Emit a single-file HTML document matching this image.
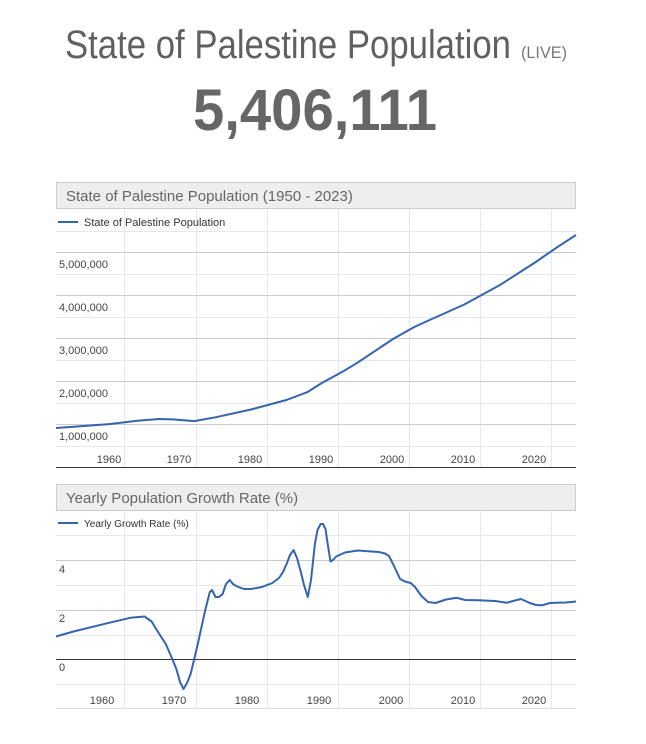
<!DOCTYPE html>
<html><head><meta charset="utf-8"><style>
html,body{margin:0;padding:0;background:#fff;width:646px;height:744px;overflow:hidden}
svg{display:block}
text{font-family:"Liberation Sans",sans-serif}
</style></head><body>
<svg width="646" height="744" viewBox="0 0 646 744">
<text x="65" y="58" font-size="40" fill="#606060" textLength="446" lengthAdjust="spacingAndGlyphs" font-family="Liberation Sans Narrow, Liberation Sans, sans-serif">State of Palestine Population</text>
<text x="521" y="58" font-size="17" fill="#777" textLength="46" lengthAdjust="spacingAndGlyphs">(LIVE)</text>
<text x="193" y="130" font-size="58" font-weight="bold" fill="#666" textLength="244" lengthAdjust="spacingAndGlyphs">5,406,111</text>

<!-- Chart 1 -->
<rect x="56.5" y="182.5" width="519" height="26" fill="#eee" stroke="#ccc"/>
<text x="66" y="201" font-size="15" fill="#666">State of Palestine Population (1950 - 2023)</text>
<g stroke="#e8e8e8" stroke-width="1">
<line x1="124.5" y1="209" x2="124.5" y2="468"/><line x1="196.5" y1="209" x2="196.5" y2="468"/><line x1="267.5" y1="209" x2="267.5" y2="468"/><line x1="338.5" y1="209" x2="338.5" y2="468"/><line x1="409.5" y1="209" x2="409.5" y2="468"/><line x1="480.5" y1="209" x2="480.5" y2="468"/><line x1="551.5" y1="209" x2="551.5" y2="468"/>
<line x1="56" y1="231.5" x2="576" y2="231.5"/><line x1="56" y1="274.5" x2="576" y2="274.5"/><line x1="56" y1="317.5" x2="576" y2="317.5"/><line x1="56" y1="360.5" x2="576" y2="360.5"/><line x1="56" y1="403.5" x2="576" y2="403.5"/><line x1="56" y1="446.5" x2="576" y2="446.5"/>
</g>
<g stroke="#ccc" stroke-width="1">
<line x1="56" y1="252.5" x2="576" y2="252.5"/><line x1="56" y1="295.5" x2="576" y2="295.5"/><line x1="56" y1="338.5" x2="576" y2="338.5"/><line x1="56" y1="381.5" x2="576" y2="381.5"/><line x1="56" y1="424.5" x2="576" y2="424.5"/>
</g>
<line x1="56" y1="467.5" x2="576" y2="467.5" stroke="#333"/>
<g font-size="11" fill="#444">
<text x="59" y="268">5,000,000</text><text x="59" y="311">4,000,000</text><text x="59" y="354">3,000,000</text><text x="59" y="397">2,000,000</text><text x="59" y="440">1,000,000</text>
</g>
<g font-size="11" fill="#444" text-anchor="middle">
<text x="109" y="463">1960</text><text x="179" y="463">1970</text><text x="250" y="463">1980</text><text x="321" y="463">1990</text><text x="392" y="463">2000</text><text x="463" y="463">2010</text><text x="534" y="463">2020</text>
</g>
<line x1="58" y1="222" x2="78" y2="222" stroke="#3366aa" stroke-width="2"/>
<text x="84" y="226" font-size="11" fill="#333">State of Palestine Population</text>
<polyline fill="none" stroke="#3464b0" stroke-width="2" stroke-linejoin="round" points="56,428 73.5,426.7 109,424.1 137.4,420.7 158.7,419 172.9,419.4 194.2,421.1 215.5,417.3 251,409.5 286.5,400 307.8,391.9 322,382.9 343.3,371.3 357.5,362.7 393,339 414.3,327 428.5,320.5 449.8,311 464,304.6 499.5,285.3 535,262.5 556.3,247.8 576,235"/>

<!-- Chart 2 -->
<rect x="56.5" y="484.5" width="519" height="26" fill="#eee" stroke="#ccc"/>
<text x="66" y="503" font-size="15" fill="#666">Yearly Population Growth Rate (%)</text>
<g stroke="#e8e8e8" stroke-width="1">
<line x1="124.5" y1="511" x2="124.5" y2="708"/><line x1="196.5" y1="511" x2="196.5" y2="708"/><line x1="267.5" y1="511" x2="267.5" y2="708"/><line x1="338.5" y1="511" x2="338.5" y2="708"/><line x1="409.5" y1="511" x2="409.5" y2="708"/><line x1="480.5" y1="511" x2="480.5" y2="708"/><line x1="551.5" y1="511" x2="551.5" y2="708"/>
<line x1="56" y1="535.5" x2="576" y2="535.5"/><line x1="56" y1="585.5" x2="576" y2="585.5"/><line x1="56" y1="635.5" x2="576" y2="635.5"/><line x1="56" y1="684.5" x2="576" y2="684.5"/>
</g>
<g stroke="#ccc"><line x1="56" y1="560.5" x2="576" y2="560.5"/><line x1="56" y1="610.5" x2="576" y2="610.5"/></g>
<line x1="56" y1="659.5" x2="576" y2="659.5" stroke="#333"/>
<line x1="56" y1="708.5" x2="576" y2="708.5" stroke="#ddd"/>
<g font-size="11" fill="#444"><text x="59" y="573">4</text><text x="59" y="622">2</text><text x="59" y="671">0</text></g>
<g font-size="11" fill="#444" text-anchor="middle">
<text x="102" y="704">1960</text><text x="174" y="704">1970</text><text x="247" y="704">1980</text><text x="319" y="704">1990</text><text x="391" y="704">2000</text><text x="463" y="704">2010</text><text x="534" y="704">2020</text>
</g>
<line x1="58" y1="523" x2="78" y2="523" stroke="#3366aa" stroke-width="2"/>
<text x="84" y="527" font-size="10" fill="#333">Yearly Growth Rate (%)</text>
<polyline fill="none" stroke="#3464b0" stroke-width="2" stroke-linejoin="round" points="56,636.5 73.5,631.5 109,622.8 130.3,617.8 144.5,616.5 151.6,621.5 158,632 165.8,644 171,656 176.4,669 180,682 183.5,689 187,683 190.6,674 194,660 197.8,644 204.9,611.5 209.8,592 212,590 215.5,597 219,597 222.6,594 226,584 229.7,580 233,584 236.8,586.3 244,589 251,589 262,587 272.3,583 279,578 283,572 287,563 290,555 293.6,550 297,558 300.7,571.5 304,585 307.8,597 311,580 314.9,544 317.5,530 320.6,524 323,524 325.5,529 328,546 330.5,561.5 333,560 336.2,556.5 345,552.5 357.5,550.5 378.8,552 385,553.5 389,556 394,566 400.1,579 405,581.5 410.8,583 415,587 421.4,596 428,602 435.6,603 446,599.5 456.9,597.8 465,600 478.2,600.3 495,601 506.6,602.8 513,601 520.8,599 530,603 536,605 542.1,605.3 550,603 556.3,602.8 566,602.5 576,601.5"/>
</svg>
</body></html>
